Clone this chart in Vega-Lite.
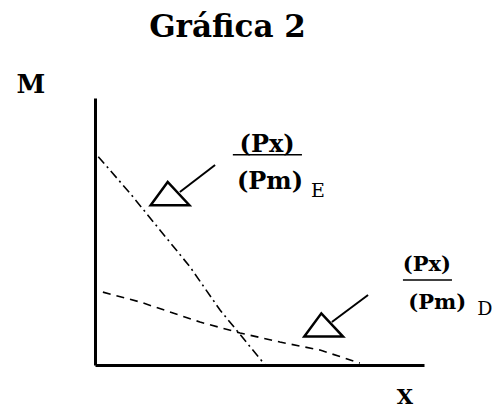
{
  "$schema": "https://vega.github.io/schema/vega-lite/v6.json",
  "width": 329,
  "height": 267,
  "autosize": {"type": "none"},
  "padding": {"left": 95, "top": 98, "right": 77, "bottom": 47},
  "background": "white",
  "config": {"view": {"stroke": null}, "font": "DejaVu Serif"},
  "title": {
    "text": "Gráfica 2",
    "font": "DejaVu Serif",
    "fontSize": 31,
    "fontWeight": "bold",
    "color": "black",
    "anchor": "middle",
    "dx": -32,
    "offset": 28
  },
  "datasets": {
    "curves": [
      {"curve": "E", "q": 0.1, "m": 7.8},
      {"curve": "E", "q": 1.06, "m": 6.44},
      {"curve": "E", "q": 2.89, "m": 3.67},
      {"curve": "E", "q": 3.8, "m": 2.06},
      {"curve": "E", "q": 5.17, "m": 0},
      {"curve": "D", "q": 0.24, "m": 2.73},
      {"curve": "D", "q": 1.37, "m": 2.36},
      {"curve": "D", "q": 3.19, "m": 1.61},
      {"curve": "D", "q": 4.41, "m": 1.2},
      {"curve": "D", "q": 5.62, "m": 0.86},
      {"curve": "D", "q": 6.84, "m": 0.56},
      {"curve": "D", "q": 8.05, "m": 0.07}
    ],
    "deltas": [
      {"curve": "E", "q": 2.28, "m": 6.42},
      {"curve": "D", "q": 6.95, "m": 1.5}
    ],
    "pointers": [
      {"curve": "E", "q": 2.58, "m": 6.48, "q2": 3.65, "m2": 7.49},
      {"curve": "D", "q": 7.2, "m": 1.61, "q2": 8.3, "m2": 2.62}
    ],
    "fractionBars": [
      {"curve": "E", "q": 4.19, "q2": 6.29, "m": 7.87},
      {"curve": "D", "q": 9.36, "q2": 10.85, "m": 3.18}
    ],
    "ratios": [
      {"curve": "E", "label": "(Px)", "q": 5.23, "m": 8.24},
      {"curve": "E", "label": "(Pm)", "q": 5.32, "m": 6.85},
      {"curve": "D", "label": "(Px)", "q": 10.09, "m": 3.74},
      {"curve": "D", "label": "(Pm)", "q": 10.4, "m": 2.32}
    ],
    "subscripts": [
      {"label": "E", "q": 6.78, "m": 6.5},
      {"label": "D", "q": 11.85, "m": 2.1}
    ],
    "axisNames": [
      {"label": "M", "q": -1.95, "m": 10.49},
      {"label": "X", "q": 9.42, "m": -1.25}
    ]
  },
  "layer": [
    {
      "data": {"name": "curves"},
      "mark": {"type": "line", "color": "black", "strokeWidth": 1.6},
      "encoding": {
        "x": {
          "field": "q", "type": "quantitative",
          "scale": {"domain": [0, 10], "nice": false, "zero": false},
          "axis": {"title": null, "labels": false, "ticks": false, "grid": false, "domainColor": "black", "domainWidth": 3}
        },
        "y": {
          "field": "m", "type": "quantitative",
          "scale": {"domain": [0, 10], "nice": false, "zero": false},
          "axis": {"title": null, "labels": false, "ticks": false, "grid": false, "domainColor": "black", "domainWidth": 3}
        },
        "detail": {"field": "curve"},
        "strokeDash": {
          "field": "curve", "type": "nominal",
          "scale": {"domain": ["E", "D"], "range": [[9, 4, 2, 4], [8, 6]]},
          "legend": null
        }
      }
    },
    {
      "data": {"name": "deltas"},
      "mark": {
        "type": "point",
        "shape": "M-1,0.6L1,0.6L-0.12,-0.6Z",
        "size": 1500,
        "filled": false,
        "stroke": "black",
        "strokeWidth": 2.5,
        "opacity": 1
      },
      "encoding": {
        "x": {"field": "q", "type": "quantitative"},
        "y": {"field": "m", "type": "quantitative"}
      }
    },
    {
      "data": {"name": "pointers"},
      "mark": {"type": "rule", "color": "black", "strokeWidth": 2},
      "encoding": {
        "x": {"field": "q", "type": "quantitative"},
        "y": {"field": "m", "type": "quantitative"},
        "x2": {"field": "q2"},
        "y2": {"field": "m2"}
      }
    },
    {
      "data": {"name": "fractionBars"},
      "mark": {"type": "rule", "color": "black", "strokeWidth": 1.5},
      "encoding": {
        "x": {"field": "q", "type": "quantitative"},
        "x2": {"field": "q2"},
        "y": {"field": "m", "type": "quantitative"}
      }
    },
    {
      "data": {"name": "ratios"},
      "transform": [{"filter": "datum.curve === 'E'"}],
      "mark": {"type": "text", "font": "DejaVu Serif", "fontWeight": "bold", "fontSize": 24, "color": "black", "align": "center", "baseline": "middle"},
      "encoding": {
        "x": {"field": "q", "type": "quantitative"},
        "y": {"field": "m", "type": "quantitative"},
        "text": {"field": "label"}
      }
    },
    {
      "data": {"name": "ratios"},
      "transform": [{"filter": "datum.curve === 'D'"}],
      "mark": {"type": "text", "font": "DejaVu Serif", "fontWeight": "bold", "fontSize": 21, "color": "black", "align": "center", "baseline": "middle"},
      "encoding": {
        "x": {"field": "q", "type": "quantitative"},
        "y": {"field": "m", "type": "quantitative"},
        "text": {"field": "label"}
      }
    },
    {
      "data": {"name": "subscripts"},
      "mark": {"type": "text", "font": "DejaVu Serif", "fontSize": 19, "color": "black", "align": "center", "baseline": "middle"},
      "encoding": {
        "x": {"field": "q", "type": "quantitative"},
        "y": {"field": "m", "type": "quantitative"},
        "text": {"field": "label"}
      }
    },
    {
      "data": {"name": "axisNames"},
      "transform": [{"filter": "datum.label === 'M'"}],
      "mark": {"type": "text", "font": "DejaVu Serif", "fontWeight": "bold", "fontSize": 26, "color": "black", "align": "center", "baseline": "middle"},
      "encoding": {
        "x": {"field": "q", "type": "quantitative"},
        "y": {"field": "m", "type": "quantitative"},
        "text": {"field": "label"}
      }
    },
    {
      "data": {"name": "axisNames"},
      "transform": [{"filter": "datum.label === 'X'"}],
      "mark": {"type": "text", "font": "DejaVu Serif", "fontWeight": "bold", "fontSize": 21, "color": "black", "align": "center", "baseline": "middle"},
      "encoding": {
        "x": {"field": "q", "type": "quantitative"},
        "y": {"field": "m", "type": "quantitative"},
        "text": {"field": "label"}
      }
    }
  ]
}
